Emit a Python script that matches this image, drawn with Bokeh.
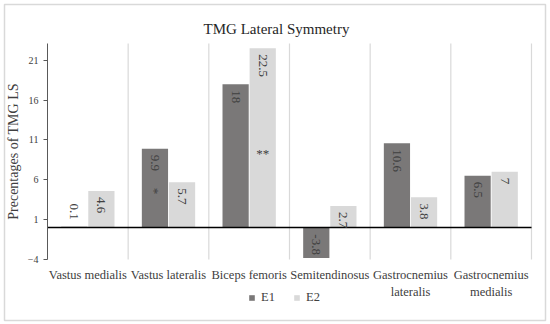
import math
from bokeh.plotting import figure
from bokeh.models import (ColumnDataSource, Range1d, FixedTicker, Label,
                          Legend, LegendItem)
from bokeh.core.properties import value
from bokeh.embed import file_html
from bokeh.resources import INLINE

categories = ["Vastus medialis", "Vastus lateralis", "Biceps femoris", "Semitendinosus",
              "Gastrocnemius\nlateralis", "Gastrocnemius\nmedialis"]
e1 = [0.1, 9.9, 18.0, -3.8, 10.6, 6.5]
e2 = [4.6, 5.7, 22.5, 2.7, 3.8, 7.0]
e1_labels = ["0.1", "9.9", "18", "-3.8", "10.6", "6.5"]
e2_labels = ["4.6", "5.7", "22.5", "2.7", "3.8", "7"]
y_ticks = [-4, 1, 6, 11, 16, 21]
y_min, y_max = -4, 23.1
# significance marks
sig_cat = [1, 2]
sig_series = ["E1", "E2"]
sig_y = [4.6, 9.3]
sig_text = ["*", "**"]

FONT = "Liberation Serif"
C1 = "#7a7878"
C2 = "#d9d9d9"
TXT = "#404040"

n = len(categories)
off = 0.168
bw = 0.325
x1 = [i + 0.5 - off for i in range(n)]
x2 = [i + 0.5 + off for i in range(n)]

# the frame covers the whole chart box; axes are placed inside it
PX_X = 80.67   # px per category
PX_Y = 7.97    # px per unit
p = figure(width=550, height=324, output_backend="svg", toolbar_location=None,
           x_range=Range1d(-43 / PX_X, n + 14 / PX_X),
           y_range=Range1d(y_min - 61 / PX_Y, y_max + 39 / PX_Y),
           min_border_left=4, min_border_right=5, min_border_top=4, min_border_bottom=4)
p.outline_line_color = "#d9d9d9"
p.outline_line_width = 1.5
p.background_fill_color = "white"
p.border_fill_color = "white"
p.xgrid.visible = False
p.ygrid.visible = False

# y axis
ya = p.yaxis[0]
ya.fixed_location = 0
ya.bounds = (y_min, y_max)
ya.ticker = FixedTicker(ticks=y_ticks)
ya.minor_tick_line_color = None
ya.major_tick_in = 0
ya.major_tick_out = 4
ya.axis_line_color = "#595959"
ya.major_tick_line_color = "#595959"
ya.major_label_text_font = FONT
ya.major_label_text_font_size = "10px"
ya.major_label_text_color = TXT
ya.major_label_standoff = 5
ya.axis_label = "Precentages of TMG LS"
ya.axis_label_text_font = FONT
ya.axis_label_text_font_style = "normal"
ya.axis_label_text_font_size = "14px"
ya.axis_label_text_color = TXT
ya.axis_label_standoff = 4

# category axis
xa = p.xaxis[0]
xa.fixed_location = y_min
xa.ticker = FixedTicker(ticks=[i + 0.5 for i in range(n)])
xa.major_label_overrides = {i + 0.5: c for i, c in enumerate(categories)}
xa.axis_line_color = None
xa.major_tick_line_color = None
xa.minor_tick_line_color = None
xa.major_label_text_font = FONT
xa.major_label_text_font_size = "12.5px"
xa.major_label_text_color = TXT
xa.major_label_standoff = 3

# category separators
sep = list(range(1, n + 1))
p.segment(x0=sep, x1=sep, y0=[y_min] * len(sep), y1=[y_max] * len(sep),
          line_color="#d9d9d9", line_width=1.2)

src1 = ColumnDataSource(dict(x=x1, top=e1, lab=e1_labels))
src2 = ColumnDataSource(dict(x=x2, top=e2, lab=e2_labels))
r1 = p.vbar(x="x", top="top", bottom=0, width=bw, source=src1, fill_color=C1, line_color=None)
r2 = p.vbar(x="x", top="top", bottom=0, width=bw, source=src2, fill_color=C2, line_color=None)

# zero line
p.segment(x0=[0], x1=[n], y0=[0], y1=[0], line_color="black", line_width=1.5)

# data labels (rotated, inside end)
def label_src(xs, vals, labs):
    al, yo = [], []
    for v in vals:
        if v >= 2:
            al.append("left"); yo.append(6)
        elif v >= 0:
            al.append("right"); yo.append(-7)
        else:
            al.append("right"); yo.append(-3)
    return ColumnDataSource(dict(x=xs, y=vals, t=labs, a=al, yo=yo))

for xs, vals, labs in ((x1, e1, e1_labels), (x2, e2, e2_labels)):
    s = label_src(xs, vals, labs)
    p.text(x="x", y="y", text="t", source=s, angle=-math.pi / 2, text_align="a",
           text_baseline="middle", y_offset="yo", text_font=value(FONT),
           text_font_size="13px", text_color=TXT)

# significance marks
sx = [(x1 if s == "E1" else x2)[c] for c, s in zip(sig_cat, sig_series)]
p.text(x=[sx[0]], y=[sig_y[0]], text=[sig_text[0]], angle=-math.pi / 2, text_align="center",
       text_baseline="middle", text_font=value(FONT), text_font_size="13px", text_color=TXT)
p.text(x=[sx[1]], y=[sig_y[1]], text=[sig_text[1]], text_align="center",
       text_baseline="middle", text_font=value(FONT), text_font_size="13px", text_color=TXT)

# title
p.add_layout(Label(x=272, y=292, x_units="screen", y_units="screen", text="TMG Lateral Symmetry",
                   text_align="center", text_baseline="middle", text_font=FONT,
                   text_font_size="15px", text_color="#262626"))

legend = Legend(items=[LegendItem(label="E1", renderers=[r1]), LegendItem(label="E2", renderers=[r2])],
                orientation="horizontal", location=(244, 15), padding=0, margin=0,
                spacing=12, glyph_width=7, glyph_height=7, label_height=12, label_standoff=6,
                label_text_font=FONT, label_text_font_size="12.5px", label_text_color=TXT,
                border_line_color=None, background_fill_alpha=0)
p.add_layout(legend)

open("out.html", "w").write(file_html(p, INLINE))
